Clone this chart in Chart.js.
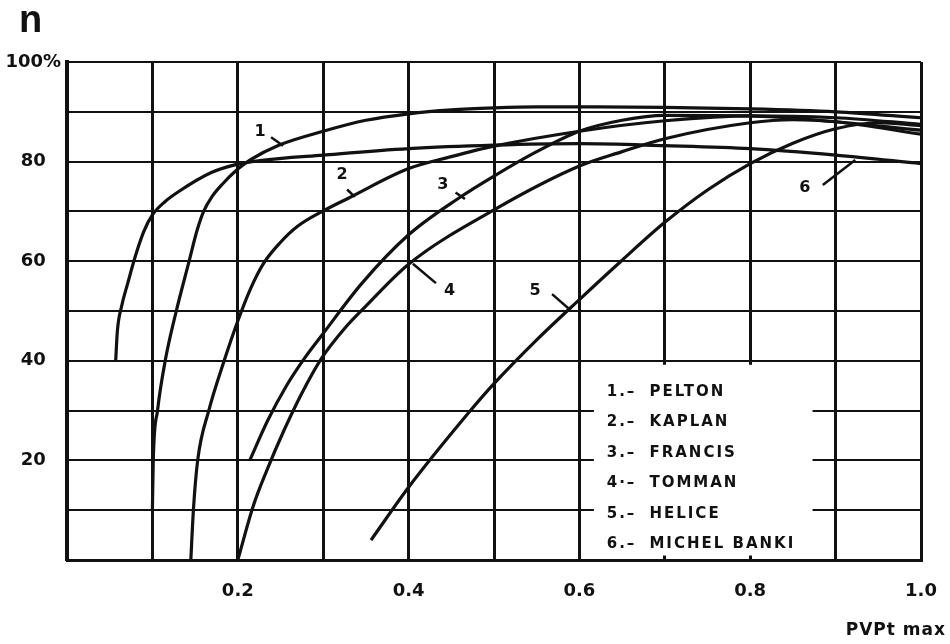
<!DOCTYPE html>
<html>
<head>
<meta charset="utf-8">
<title>Rendimiento de turbinas</title>
<script src="https://cdn.jsdelivr.net/npm/chart.js@4.4.1/dist/chart.umd.min.js"></script>
<style>
    html, body { margin: 0; padding: 0; background: #fff; }
    canvas { display: block; }
</style>
</head>
<body>
<canvas id="turbineChart" width="950" height="644"></canvas>
<script>
"use strict"

// curves: [P/Pt max, efficiency %]
const pelton = [[0.100, 10], [0.101, 20], [0.106, 30], [0.115, 40], [0.128, 50], [0.143, 60], [0.152, 66],
    [0.160, 70], [0.170, 73], [0.181, 75.3], [0.200, 78.5], [0.215, 80.4], [0.248, 83.3], [0.300, 86.1],
    [0.350, 88.3], [0.400, 89.6], [0.450, 90.4], [0.500, 90.8], [0.550, 91.0], [0.620, 91.0], [0.700, 90.9],
    [0.800, 90.6], [0.900, 90.0], [1.000, 88.8]]
const kaplan = [[0.145, 0], [0.148, 10], [0.153, 20], [0.166, 30], [0.184, 40], [0.200, 48], [0.215, 54.5],
    [0.230, 59.5], [0.249, 63.6], [0.270, 67], [0.300, 70.1], [0.330, 72.7], [0.400, 78.6], [0.450, 81.0],
    [0.500, 83.1], [0.600, 86.1], [0.700, 88.2], [0.800, 89.2], [0.900, 88.8], [1.000, 87.5]]
const francis = [[0.214, 20], [0.235, 28], [0.257, 35], [0.278, 40.5], [0.300, 45.5], [0.345, 55.5],
    [0.400, 65.3], [0.459, 72.7], [0.500, 77.1], [0.550, 82.0], [0.600, 86.1], [0.650, 88.3], [0.700, 89.3],
    [0.800, 89.2], [0.900, 88.0], [1.000, 86.3]]
const tomman = [[0.200, 0], [0.218, 10.8], [0.234, 18], [0.254, 26], [0.275, 33.5], [0.298, 40.5],
    [0.325, 46.5], [0.350, 51], [0.400, 59.4], [0.500, 70.3], [0.600, 79.1], [0.650, 82.0], [0.700, 84.6],
    [0.800, 87.8], [0.850, 88.4], [0.900, 88.0], [1.000, 85.5]]
const helice = [[0.356, 4], [0.400, 14.6], [0.470, 29.5], [0.500, 35.4], [0.550, 44.2], [0.600, 52.3],
    [0.650, 60.2], [0.700, 67.8], [0.750, 74.3], [0.800, 79.6], [0.850, 83.7], [0.900, 86.6], [0.950, 87.8],
    [1.000, 87.2]]
const michelBanki = [[0.057, 40], [0.059, 46], [0.064, 51], [0.071, 55.5], [0.080, 61], [0.090, 66],
    [0.100, 69.3], [0.115, 72], [0.130, 73.9], [0.169, 77.8], [0.200, 79.5], [0.226, 80.2], [0.300, 81.3],
    [0.400, 82.6], [0.500, 83.3], [0.600, 83.6], [0.700, 83.2], [0.800, 82.6], [0.900, 81.3], [1.000, 79.6]]

const turbineNames = ['PELTON', 'KAPLAN', 'FRANCIS', 'TOMMAN', 'HELICE', 'MICHEL BANKI']
const legendMarks = ['1.\u2013', '2.\u2013', '3.\u2013', '4\u00b7\u2013', '5.\u2013', '6.\u2013']
const xTickValues = [0.2, 0.4, 0.6, 0.8, 1.0]
const xTickLabels = ['0.2', '0.4', '0.6', '0.8', '1.0']
const yTickValues = [20, 40, 60, 80, 100]
const yTickLabels = ['20', '40', '60', '80', '100%']
const yAxisTitle = 'n'
const xAxisTitle = 'PVPt max'

const chartUI = (function() {
    const INK = '#111'
    const FONT = "'DejaVu Sans', sans-serif"

    // numbers written next to the curves, with their little pointer strokes
    const curveTags = [
        { text: '1', at: [0.226, 85.9], from: [0.239, 84.9], to: [0.253, 83.2] },
        { text: '2', at: [0.322, 77.3], from: [0.328, 74.4], to: [0.337, 72.9] },
        { text: '3', at: [0.440, 75.3], from: [0.455, 73.8], to: [0.466, 72.5] },
        { text: '4', at: [0.448, 54.0], from: [0.432, 55.6], to: [0.405, 59.5] },
        { text: '5', at: [0.548, 54.0], from: [0.568, 53.4], to: [0.588, 50.4] },
        { text: '6', at: [0.864, 74.7], from: [0.885, 75.3], to: [0.923, 80.3] }
    ]

    const pickLabel = (values, labels) => v => {
        const i = values.findIndex(t => Math.abs(t - v) < 1e-6)
        return i >= 0 ? labels[i] : ''
    }

    const overlay = {
        id: 'overlay',
        beforeDatasetsDraw(chart) {
            const { ctx, scales: { x, y } } = chart
            // blank panel that holds the key
            ctx.save()
            ctx.fillStyle = '#fff'
            const l = x.getPixelForValue(0.617), r = x.getPixelForValue(0.873)
            const t = y.getPixelForValue(39.2), b = y.getPixelForValue(0.9)
            ctx.fillRect(l, t, r - l, b - t)
            ctx.restore()
        },
        afterDraw(chart) {
            const { ctx, scales: { x, y } } = chart
            ctx.save()
            ctx.fillStyle = INK
            ctx.strokeStyle = INK
            ctx.textBaseline = 'middle'

            // key
            ctx.font = 'bold 15px ' + FONT
            ctx.letterSpacing = '2px'
            turbineNames.forEach((name, i) => {
                const py = y.getPixelForValue(33.7 - i * 6.1)
                ctx.textAlign = 'left'
                ctx.fillText(legendMarks[i], x.getPixelForValue(0.632), py)
                ctx.fillText(name, x.getPixelForValue(0.682), py)
            })

            // curve numbers
            ctx.letterSpacing = '0px'
            ctx.font = 'bold 16px ' + FONT
            ctx.lineWidth = 2.5
            ctx.textAlign = 'center'
            curveTags.forEach(tag => {
                ctx.fillText(tag.text, x.getPixelForValue(tag.at[0]), y.getPixelForValue(tag.at[1]))
                ctx.beginPath()
                ctx.moveTo(x.getPixelForValue(tag.from[0]), y.getPixelForValue(tag.from[1]))
                ctx.lineTo(x.getPixelForValue(tag.to[0]), y.getPixelForValue(tag.to[1]))
                ctx.stroke()
            })

            // axis names
            ctx.font = "bold 38px 'Liberation Sans', sans-serif"
            ctx.textAlign = 'left'
            ctx.textBaseline = 'alphabetic'
            ctx.fillText(yAxisTitle, 19, 32)

            ctx.font = 'bold 17px ' + FONT
            ctx.letterSpacing = '1px'
            ctx.textAlign = 'right'
            ctx.textBaseline = 'middle'
            ctx.fillText(xAxisTitle, 946, 631)
            ctx.restore()
        }
    }

    const makeDataset = (label, points) => ({
        label: label,
        data: points.map(p => ({ x: p[0], y: p[1] })),
        borderColor: INK,
        borderWidth: 3.2,
        pointRadius: 0,
        fill: false,
        cubicInterpolationMode: 'monotone'
    })

    return {
        render: () => {
            const ctx = document.getElementById('turbineChart')
            const series = [pelton, kaplan, francis, tomman, helice, michelBanki]
            return new Chart(ctx, {
                type: 'line',
                data: {
                    datasets: series.map((pts, i) => makeDataset(turbineNames[i], pts))
                },
                options: {
                    responsive: false,
                    animation: false,
                    layout: { padding: { top: 62, right: 29, left: 0, bottom: 0 } },
                    plugins: {
                        legend: { display: false },
                        tooltip: { enabled: false }
                    },
                    scales: {
                        x: {
                            type: 'linear',
                            min: 0,
                            max: 1,
                            afterFit: s => {
                                s.height = 84
                                s.paddingLeft = 0
                                s.paddingRight = 0
                            },
                            border: { display: true, color: INK, width: 3 },
                            grid: { color: INK, lineWidth: 3, drawTicks: false },
                            ticks: {
                                stepSize: 0.1,
                                autoSkip: false,
                                maxRotation: 0,
                                padding: 21,
                                color: INK,
                                font: { family: FONT, size: 18, weight: 'bold' },
                                callback: pickLabel(xTickValues, xTickLabels)
                            }
                        },
                        y: {
                            type: 'linear',
                            min: 0,
                            max: 100,
                            afterFit: s => {
                                s.width = 67
                                s.paddingTop = 0
                            },
                            border: { display: true, color: INK, width: 4 },
                            grid: { color: INK, lineWidth: 2, drawTicks: false },
                            ticks: {
                                stepSize: 10,
                                autoSkip: false,
                                padding: 6,
                                crossAlign: 'center',
                                color: INK,
                                font: { family: FONT, size: 18, weight: 'bold' },
                                callback: pickLabel(yTickValues, yTickLabels)
                            }
                        }
                    }
                },
                plugins: [overlay]
            })
        }
    }
})()

chartUI.render()
</script>
</body>
</html>
